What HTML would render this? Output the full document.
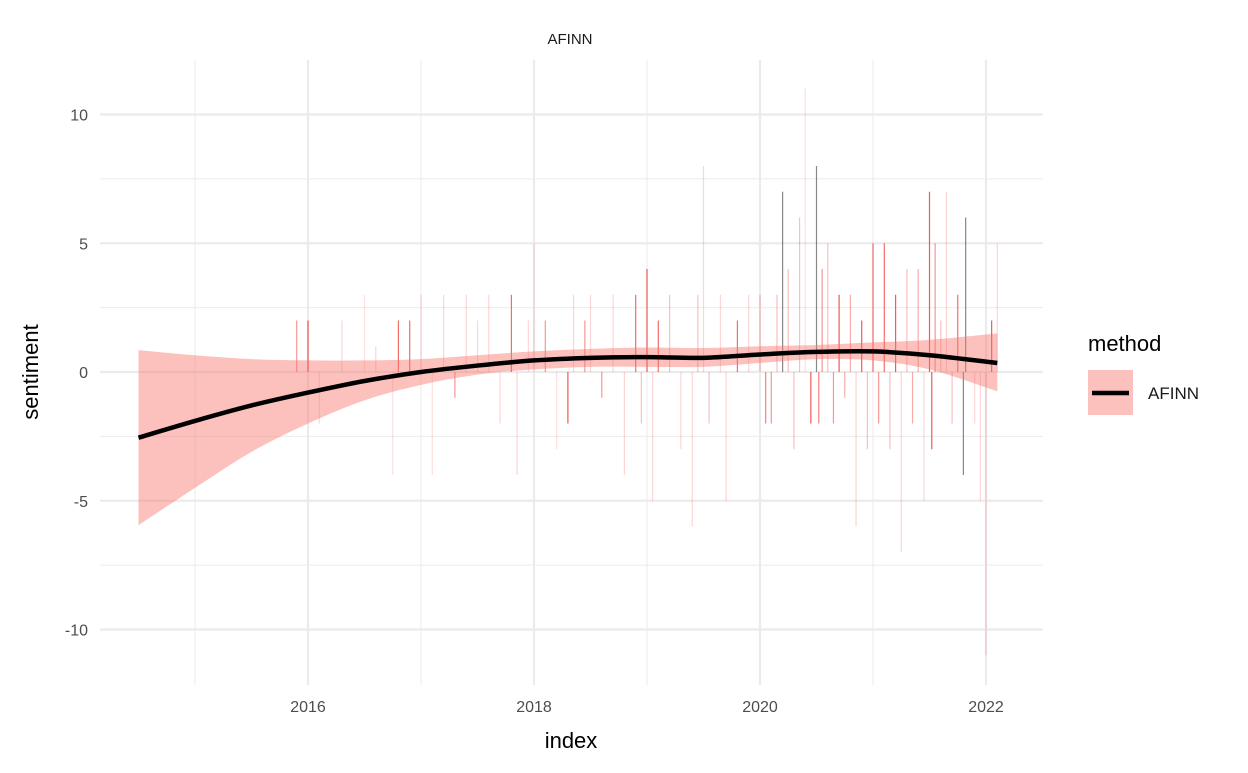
<!DOCTYPE html>
<html><head><meta charset="utf-8"><style>
body{margin:0;background:#fff;}
svg text{font-family:"Liberation Sans",Arial,sans-serif;}
</style></head><body>
<svg id="chart" width="1248" height="768" xmlns="http://www.w3.org/2000/svg">
<g id="grid"></g>
<g id="bars"></g>
<g id="smooth"></g>
<g id="axes"></g>
<text x="570" y="44" font-size="15" text-anchor="middle" fill="#1a1a1a">AFINN</text>
<text x="571" y="748" font-size="22" text-anchor="middle" fill="#000">index</text>
<text transform="translate(38,372) rotate(-90)" font-size="22" text-anchor="middle" fill="#000">sentiment</text>
<g>
<text x="1088" y="351" font-size="22" fill="#000">method</text>
<rect x="1088" y="370" width="45" height="45" fill="#f8766d" fill-opacity="0.45"/>
<line x1="1092" y1="393" x2="1129" y2="393" stroke="#000" stroke-width="4.5"/>
<text x="1148" y="399" font-size="17" fill="#1a1a1a">AFINN</text>
</g>
</svg>
<script>
const yTicks=[10,5,0,-5,-10];
const yMinor=[7.5,2.5,-2.5,-7.5];
const xTicks=[2016,2018,2020,2022];
const xMinor=[2015,2017,2019,2021];
const barDates=[2015.9,2016.0,2016.1,2016.3,2016.5,2016.6,2016.75,2016.8,2016.9,2017.0,2017.1,2017.2,2017.3,2017.4,2017.5,2017.6,2017.7,2017.8,2017.85,2017.95,2018.0,2018.1,2018.2,2018.3,2018.35,2018.45,2018.5,2018.6,2018.7,2018.8,2018.9,2018.95,2019.0,2019.05,2019.1,2019.2,2019.3,2019.4,2019.45,2019.5,2019.55,2019.65,2019.7,2019.8,2019.9,2020.0,2020.05,2020.1,2020.15,2020.2,2020.25,2020.3,2020.35,2020.4,2020.45,2020.5,2020.52,2020.55,2020.6,2020.65,2020.7,2020.75,2020.8,2020.85,2020.9,2020.95,2021.0,2021.05,2021.1,2021.15,2021.2,2021.25,2021.3,2021.35,2021.4,2021.45,2021.5,2021.52,2021.55,2021.6,2021.65,2021.7,2021.75,2021.8,2021.82,2021.9,2021.95,2022.0,2022.05,2022.1];
const barValues=[2,2,-2,2,3,1,-4,2,2,3,-4,3,-1,3,2,3,-2,3,-4,2,5,2,-3,-2,3,2,3,-1,3,-4,3,-2,4,-5,2,3,-3,-6,3,8,-2,3,-5,2,3,3,-2,-2,3,7,4,-3,6,11,-2,8,-2,4,5,-2,3,-1,3,-6,2,-3,5,-2,5,-3,3,-7,4,-2,4,-5,7,-3,5,2,7,-2,3,-4,6,-2,-5,-11,2,5];
const barAlpha=[0.5,0.8,0.2,0.2,0.15,0.2,0.15,0.7,0.7,0.2,0.15,0.2,0.5,0.2,0.2,0.2,0.2,0.7,0.2,0.2,0.15,0.5,0.15,0.8,0.2,0.5,0.2,0.5,0.2,0.2,0.7,0.3,0.8,0.2,0.7,0.3,0.2,0.2,0.3,0.2,0.3,0.2,0.2,0.7,0.2,0.3,0.6,0.5,0.3,0.9,0.3,0.3,0.3,0.15,0.8,0.9,0.6,0.5,0.3,0.5,0.8,0.4,0.4,0.2,0.8,0.3,0.7,0.5,0.7,0.3,0.8,0.2,0.3,0.4,0.4,0.2,0.8,0.8,0.5,0.3,0.2,0.3,0.7,0.9,0.9,0.2,0.2,0.2,0.8,0.2];
const fitX=[2014.5,2015,2015.5,2016,2016.5,2017,2017.5,2018,2018.5,2019,2019.5,2020,2020.5,2021,2021.5,2022.1];
const fitY=[-2.55,-1.9,-1.3,-0.8,-0.35,0.0,0.25,0.45,0.55,0.58,0.55,0.68,0.78,0.8,0.65,0.35];
const fitHi=[0.85,0.65,0.5,0.45,0.45,0.5,0.65,0.8,0.9,0.95,0.93,1.0,1.05,1.15,1.25,1.5];
const fitLo=[-5.95,-4.5,-3.1,-2.0,-1.1,-0.5,-0.1,0.1,0.2,0.2,0.2,0.35,0.5,0.45,0.1,-0.75];
const X=v=>308+(v-2016)*113;
const Y=v=>372-v*25.75;
const NS='http://www.w3.org/2000/svg';
function mk(t,a,p){const e=document.createElementNS(NS,t);for(const k in a)e.setAttribute(k,a[k]);p.appendChild(e);return e;}
function curve(pts,start){let d=start?'M'+pts[0][0]+','+pts[0][1]:'L'+pts[0][0]+','+pts[0][1];
for(let i=0;i<pts.length-1;i++){const p0=pts[i-1]||pts[i],p1=pts[i],p2=pts[i+1],p3=pts[i+2]||p2;
d+='C'+(p1[0]+(p2[0]-p0[0])/6)+','+(p1[1]+(p2[1]-p0[1])/6)+' '+(p2[0]-(p3[0]-p1[0])/6)+','+(p2[1]-(p3[1]-p1[1])/6)+' '+p2[0]+','+p2[1];}
return d;}
const L=100,R=1043,T=60,B=685;
const g=document.getElementById('grid');
yMinor.forEach(v=>{const e=mk('line',{x1:L,x2:R,y1:Y(v),y2:Y(v),stroke:'#ebebeb','stroke-width':1},g);

});
xMinor.forEach(v=>{const e=mk('line',{x1:X(v),x2:X(v),y1:T,y2:B,stroke:'#ebebeb','stroke-width':1},g);

});
const ax=document.getElementById('axes');
yTicks.forEach(v=>{const e=mk('line',{x1:L,x2:R,y1:Y(v),y2:Y(v),stroke:'#ebebeb','stroke-width':2.2},g);


const t=mk('text',{x:88,y:Y(v)+6,'font-size':16,'text-anchor':'end',fill:'#4d4d4d'},ax);t.textContent=v;

});
xTicks.forEach(v=>{const e=mk('line',{x1:X(v),x2:X(v),y1:T,y2:B,stroke:'#ebebeb','stroke-width':2.2},g);


const t=mk('text',{x:X(v),y:712,'font-size':16,'text-anchor':'middle',fill:'#4d4d4d'},ax);t.textContent=v;

});
const bg=document.getElementById('bars');
barDates.forEach((d,i)=>{const v=barValues[i];const a=barAlpha[i];
const col=a>0.85?'#555':'#f0302a';
const r=mk('rect',{x:X(d)-0.6,width:1.2,y:Math.min(Y(v),Y(0)),height:Math.abs(Y(v)-Y(0)),fill:col,'fill-opacity':a>0.85?0.7:a},bg);

});
const sg=document.getElementById('smooth');
const hi=fitX.map((x,i)=>[X(x),Y(fitHi[i])]);
const lo=fitX.map((x,i)=>[X(x),Y(fitLo[i])]).reverse();
const rib=mk('path',{d:curve(hi,true)+curve(lo,false)+'Z',fill:'#f8766d','fill-opacity':0.45},sg);


const ln=mk('path',{d:curve(fitX.map((x,i)=>[X(x),Y(fitY[i])]),true),fill:'none',stroke:'#000','stroke-width':4.5,'stroke-linejoin':'round'},sg);


</script>
</body></html>
